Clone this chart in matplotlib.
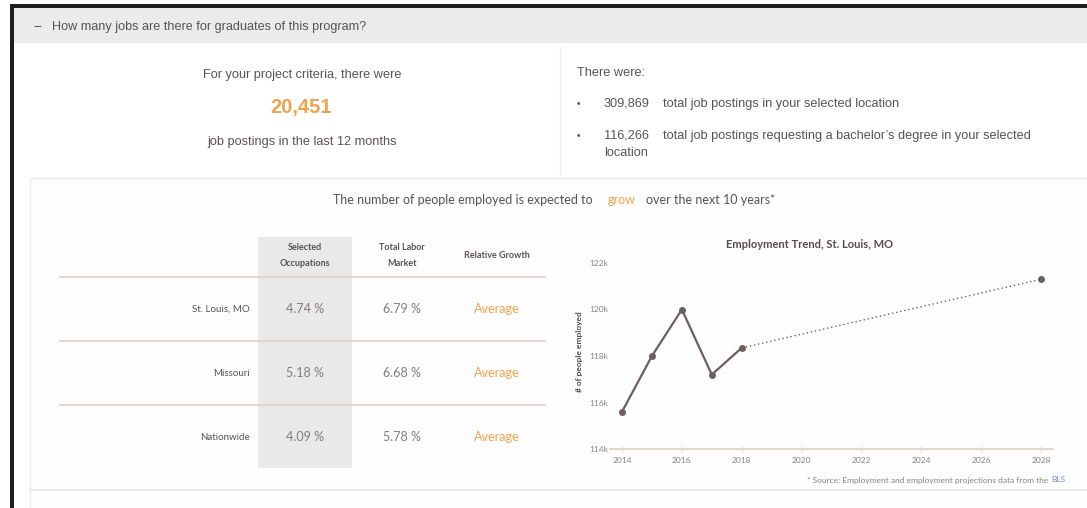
import matplotlib.pyplot as plt
from matplotlib.patches import Rectangle
from matplotlib.lines import Line2D

# data
regions = ['St. Louis, MO', 'Missouri', 'Nationwide']
selected_growth = ['4.74 %', '5.18 %', '4.09 %']
labor_growth = ['6.79 %', '6.68 %', '5.78 %']
relative_growth = ['Average', 'Average', 'Average']
col_headers = ['Selected\nOccupations', 'Total Labor\nMarket', 'Relative Growth']

years_actual = [2014, 2015, 2016, 2017, 2018]
employed_actual = [115.6, 118.0, 120.0, 117.2, 118.35]  # thousands
years_proj = [2018, 2028]
employed_proj = [118.35, 121.3]
year_ticks = [2014, 2016, 2018, 2020, 2022, 2024, 2026, 2028]
emp_ticks = [114, 116, 118, 120, 122]

criteria_postings = '20,451'
total_postings = '309,869'
bachelor_postings = '116,266'

W, H = 1087, 508
TXT = '#5a5252'
ORANGE = '#f0a24a'
LINEC = '#6e5f5f'
RULE = '#dccfc8'
ARIAL = ['Liberation Sans', 'DejaVu Sans']
FS = 9.2

plt.rcParams['font.family'] = ['Lato', 'DejaVu Sans']

fig = plt.figure(figsize=(W / 100, H / 100), dpi=100)
fig.patch.set_facecolor('white')


def fx(x):
    return x / W


def fy(y):
    return 1 - y / H


def rect(x0, y0, x1, y1, **kw):
    fig.add_artist(Rectangle((fx(x0), fy(y1)), fx(x1) - fx(x0), fy(y0) - fy(y1),
                             transform=fig.transFigure, **kw))


def hline(x0, x1, y, **kw):
    fig.add_artist(Line2D([fx(x0), fx(x1)], [fy(y), fy(y)], transform=fig.transFigure, **kw))


def text(x, y, s, **kw):
    kw.setdefault('color', TXT)
    kw.setdefault('va', 'center')
    fig.text(fx(x), fy(y), s, **kw)


# frame / panels
rect(10, 4, W, 8, color='#1e1e1e', lw=0)
rect(10, 4, 14, H, color='#1e1e1e', lw=0)
rect(14, 8, W, 43, color='#ebebeb', lw=0)
rect(30, 178, W + 2, H + 2, facecolor='#fdfdfd', edgecolor='#ececec', lw=1)
hline(30, W, 490, color='#ececec', lw=1.5)
fig.add_artist(Line2D([fx(560), fx(560)], [fy(48), fy(174)], transform=fig.transFigure,
                      color='#eeeeee', lw=1))

# header
text(33, 27, '\u2014', fontsize=7, fontweight='bold', color='#444444')
text(52, 27, 'How many jobs are there for graduates of this program?', fontsize=9.1,
     family=ARIAL)

# top left summary
text(302, 75, 'For your project criteria, there were', fontsize=FS, ha='center', family=ARIAL)
text(301, 107, criteria_postings, fontsize=14.5, ha='center', color=ORANGE, fontweight='bold',
     family=ARIAL)
text(302, 142, 'job postings in the last 12 months', fontsize=FS, ha='center', family=ARIAL)

# top right summary
text(577, 73, 'There were:', fontsize=FS, family=ARIAL)
text(577, 104, '\u2022', fontsize=7, family=ARIAL)
text(604, 104, total_postings, fontsize=FS, family=ARIAL)
text(663, 104, 'total job postings in your selected location', fontsize=FS, family=ARIAL)
text(577, 136, '\u2022', fontsize=7, family=ARIAL)
text(604, 136, bachelor_postings, fontsize=FS, family=ARIAL)
text(663, 136, 'total job postings requesting a bachelor\u2019s degree in your selected',
     fontsize=FS, family=ARIAL)
text(604, 153, 'location', fontsize=FS, family=ARIAL)

# growth sentence
text(333, 200, 'The number of people employed is expected to', fontsize=9)
text(608, 200, 'grow', fontsize=9, color=ORANGE)
text(646, 200, 'over the next 10 years*', fontsize=9)

# table
rect(258, 237, 352, 468, color='#e9e9e9', lw=0)
col_x = [305, 402, 497]
for cx, h in zip(col_x, col_headers):
    text(cx, 256, h, fontsize=6.5, ha='center', fontweight='bold', linespacing=2.0)
row_y = [309, 373, 437]
for y in [277, 341, 405]:
    hline(60, 545, y, color=RULE, lw=1.2)
for i, y in enumerate(row_y):
    text(250, y, regions[i], fontsize=7, ha='right')
    text(col_x[0], y, selected_growth[i], fontsize=9, ha='center', color='#847c7c')
    text(col_x[1], y, labor_growth[i], fontsize=9, ha='center', color='#847c7c')
    text(col_x[2], y, relative_growth[i], fontsize=9, ha='center', color=ORANGE)

# employment trend chart
px_year = (1041 - 622) / 14
px_k = (449 - 263) / 8
x_lo, x_hi = 2013.6, 2028.4
y_lo, y_hi = 114, 122.4
left = 622 - (2014 - x_lo) * px_year
right = 1041 + (x_hi - 2028) * px_year
top = 449 - (y_hi - 114) * px_k
bottom = 449
ax = fig.add_axes([fx(left), fy(bottom), fx(right) - fx(left), fy(top) - fy(bottom)])
ax.set_zorder(10)
ax.set_facecolor('none')
ax.plot(years_actual, employed_actual, color=LINEC, lw=1.6, marker='o', ms=4, clip_on=False)
ax.plot(years_proj, employed_proj, color=LINEC, lw=1, ls=(0, (1, 2)), clip_on=False)
ax.plot(years_proj[-1:], employed_proj[-1:], 'o', color=LINEC, ms=4, clip_on=False)
ax.set_xlim(x_lo, x_hi)
ax.set_ylim(y_lo, y_hi)
ax.set_xticks(year_ticks)
ax.set_xticklabels([str(y) for y in year_ticks])
ax.set_yticks(emp_ticks)
ax.set_yticklabels([f'{v}k' for v in emp_ticks])
for s in ['top', 'right', 'left']:
    ax.spines[s].set_visible(False)
ax.spines['bottom'].set_color(RULE)
ax.spines['bottom'].set_linewidth(1.2)
ax.tick_params(axis='x', direction='inout', length=5, color='#e4dcd8', labelsize=6,
               labelcolor='#8a8282', pad=3)
ax.tick_params(axis='y', length=0, labelsize=6, labelcolor='#8a8282', pad=1)
ax.set_ylabel('# of people employed', fontsize=6, color='#554c4c', fontweight='bold', labelpad=5)

text(810, 245, 'Employment Trend, St. Louis, MO', fontsize=8, ha='center', color='#554c4c',
     fontweight='bold')
text(1048, 480, '* Source: Employment and employment projections data from the', fontsize=6,
     ha='right', color='#8a8282')
text(1051, 480, 'BLS', fontsize=6, color='#6a8fd0')

fig.savefig('out.png', dpi=100, facecolor='white')
